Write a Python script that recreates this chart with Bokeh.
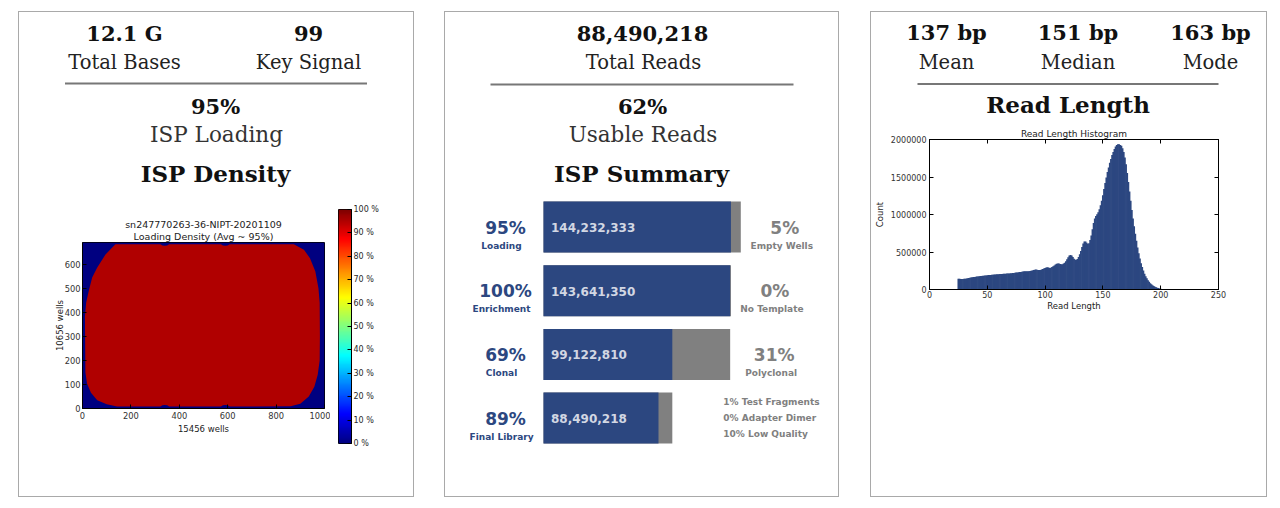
import numpy as np
from bokeh.plotting import figure
from bokeh.layouts import row, column
from bokeh.models import (Range1d, Spacer, Title, LinearAxis, FixedTicker,
                          BasicTickFormatter, LinearColorMapper, ColumnDataSource)
from bokeh.transform import linear_cmap
from bokeh.core.properties import value
from bokeh.embed import file_html
from bokeh.resources import INLINE

# ---------------- data ----------------
left_stat_values = ["12.1 G", "99"]
left_stat_labels = ["Total Bases", "Key Signal"]
isp_loading_value = "95%"
isp_loading_label = "ISP Loading"
left_section_title = "ISP Density"

mid_stat_value = "88,490,218"
mid_stat_label = "Total Reads"
usable_value = "62%"
usable_label = "Usable Reads"
mid_section_title = "ISP Summary"

rl_stat_values = ["137 bp", "151 bp", "163 bp"]
rl_stat_labels = ["Mean", "Median", "Mode"]
right_section_title = "Read Length"

heat_title = ["sn247770263-36-NIPT-20201109", "Loading Density (Avg ~ 95%)"]
heat_xlabel = "15456 wells"
heat_ylabel = "10656 wells"
heat_xticks = [0, 200, 400, 600, 800, 1000]
heat_yticks = [0, 100, 200, 300, 400, 500, 600]
chip_x = [0, 1000, 1000, 0]
chip_y = [0, 0, 690, 690]
loaded_x = [136, 322, 330, 340, 350, 358, 572, 580, 590, 600, 608, 873, 915, 940, 962,
            975, 980, 981, 980, 972, 958, 935, 900, 860, 608, 600, 590, 580, 572, 358,
            350, 340, 330, 322, 143, 100, 61, 35, 19, 12, 10, 15, 26, 40, 61, 95]
loaded_y = [683, 683, 678, 676, 678, 683, 683, 678, 676, 678, 683, 683, 660, 625, 570,
            500, 440, 300, 200, 140, 90, 50, 20, 9, 8, 13, 15, 13, 8, 8,
            13, 15, 13, 8, 8, 18, 34, 65, 103, 150, 380, 440, 489, 545, 586, 640]
region_levels = [0, 95]
cbar_ticks = [0, 10, 20, 30, 40, 50, 60, 70, 80, 90, 100]

summary_pct = ["95%", "100%", "69%", "89%"]
summary_names = ["Loading", "Enrichment", "Clonal", "Final Library"]
summary_counts = [144232333, 143641350, 99122810, 88490218]
summary_totals = [151823509, 144232333, 143641350, 99122810]
rest_pct = ["5%", "0%", "31%"]
rest_names = ["Empty Wells", "No Template", "Polyclonal"]
final_breakdown = ["1% Test Fragments", "0% Adapter Dimer", "10% Low Quality"]

hist_title = "Read Length Histogram"
hist_xlabel = "Read Length"
hist_ylabel = "Count"
hist_bins = list(range(25, 206))
hist_counts_k = [
    144, 142, 141, 140, 141, 143, 145, 148, 151, 155,
    158, 161, 163, 166, 168, 171, 173, 175, 177, 179,
    181, 183, 185, 187, 188, 191, 192, 194, 195, 197,
    198, 200, 201, 202, 204, 205, 206, 207, 208, 209,
    210, 211, 213, 214, 215, 217, 218, 220, 221, 224,
    226, 228, 230, 232, 235, 238, 240, 242, 243, 242,
    243, 245, 247, 250, 254, 260, 265, 267, 264, 260,
    259, 261, 266, 273, 280, 286, 293, 296, 293, 288,
    290, 299, 309, 321, 334, 343, 348, 346, 340, 336,
    338, 346, 358, 376, 402, 431, 453, 461, 455, 433,
    410, 397, 396, 407, 433, 469, 515, 567, 613, 639,
    641, 623, 608, 616, 659, 721, 803, 886, 948, 979,
    1004, 1030, 1071, 1123, 1185, 1257, 1339, 1421, 1494, 1566,
    1627, 1689, 1741, 1792, 1833, 1875, 1906, 1926, 1936, 1936,
    1926, 1916, 1885, 1833, 1761, 1669, 1555, 1432, 1308, 1185,
    1061, 948, 845, 742, 649, 561, 484, 412, 350, 299,
    252, 211, 177, 149, 124, 103, 84, 69, 57, 46,
    38, 31, 25, 20, 15, 11, 8, 6, 4, 3, 2]
hist_xticks = [0, 50, 100, 150, 200, 250]
hist_yticks = [0, 500000, 1000000, 1500000, 2000000]

# ---------------- styles ----------------
NAVY = "#2c4780"
GRAY = "#808080"
BORDER = "#a9a9a9"
SERIF = "DejaVu Serif"
SANS = "DejaVu Sans"
TICK_COLOR = "#333333"


def jet_palette(n=256):
    out = []
    for i in range(n):
        t = i / (n - 1)
        r = min(max(1.5 - abs(4 * t - 3), 0), 1)
        g = min(max(1.5 - abs(4 * t - 2), 0), 1)
        b = min(max(1.5 - abs(4 * t - 1), 0), 1)
        out.append("#%02x%02x%02x" % (int(r * 255 + .5), int(g * 255 + .5), int(b * 255 + .5)))
    return out


JET = jet_palette()


def no_align(p):
    if "frame_align" in p.properties():
        p.frame_align = False


def blank_fig(x0, y0, w, h):
    p = figure(width=w, height=h, x_range=Range1d(x0, x0 + w), y_range=Range1d(y0 + h, y0),
               min_border=0, toolbar_location=None, output_backend="svg",
               x_axis_location=None, y_axis_location=None)
    p.outline_line_color = None
    for g in p.grid:
        g.visible = False
    no_align(p)
    return p


def txt(p, x, y, s, size, bold=False, color="#111111", font=SERIF, align="center"):
    # y is the visual middle of the text line
    p.text(x=[x], y=[y], text=[s], text_font=value(font), text_font_size=value(f"{size}px"),
           text_font_style="bold" if bold else "normal", text_color=color,
           text_align=align, text_baseline="middle")


def style_axes(p, size="8px"):
    for ax in p.axis:
        ax.major_label_text_font = SANS
        ax.major_label_text_font_size = size
        ax.major_label_text_color = TICK_COLOR
        ax.axis_label_text_font = SANS
        ax.axis_label_text_font_size = "8.5px"
        ax.axis_label_text_font_style = "normal"
        ax.axis_label_text_color = "#222222"
        ax.major_tick_in = 4
        ax.major_tick_out = 0
        ax.minor_tick_line_color = None
        ax.axis_line_color = "black"
        ax.major_tick_line_color = "black"
        ax.major_label_standoff = 3
        ax.axis_label_standoff = 3


def vbar_line(h):
    return Spacer(width=1, height=h, styles={"background-color": BORDER})


def hbar_line(w):
    return Spacer(width=w, height=1, styles={"background-color": BORDER})


def panel(w, header, body, body_h):
    H = 1 + header.height + body_h + 1
    inner = column(hbar_line(w), header, body, hbar_line(w))
    return row(vbar_line(H), inner, vbar_line(H))


# ---------------- panel 1 ----------------
h1 = blank_fig(19, 12, 394, 183)
for xc, v, lab in zip([124, 308], left_stat_values, left_stat_labels):
    txt(h1, xc, 32.5, v, 21, bold=True)
    txt(h1, xc, 61.8, lab, 19.5, color="#222222")
h1.line(x=[64.5, 366.5], y=[83, 83], line_color="#777777", line_width=2)
txt(h1, 215, 106, isp_loading_value, 21, bold=True)
txt(h1, 216, 134, isp_loading_label, 21.5, color="#333333")
txt(h1, 215, 173, left_section_title, 23, bold=True)

heat = figure(width=311, height=301, x_range=Range1d(0, 1000), y_range=Range1d(0, 690),
              min_border_left=63, min_border_right=6, min_border_top=47, min_border_bottom=88,
              toolbar_location=None, output_backend="svg")
no_align(heat)
heat.grid.visible = False
heat.outline_line_color = "black"
heat_src = ColumnDataSource(dict(xs=[chip_x, loaded_x], ys=[chip_y, loaded_y], level=region_levels))
heat.patches(xs="xs", ys="ys", source=heat_src,
             fill_color=linear_cmap("level", JET, 0, 100), line_color=None)
heat.xaxis.ticker = FixedTicker(ticks=heat_xticks)
heat.yaxis.ticker = FixedTicker(ticks=heat_yticks)
heat.xaxis.axis_label = heat_xlabel
heat.yaxis.axis_label = heat_ylabel
style_axes(heat, "8.3px")
heat.yaxis.major_label_standoff = 2
heat.yaxis.axis_label_standoff = -3
heat.xaxis.axis_label_standoff = 2
heat.add_layout(Title(text=heat_title[1], align="center", text_font_size="9.5px", text_font=SANS,
                      text_font_style="normal", text_color="#222222", standoff=1), "above")
heat.add_layout(Title(text=heat_title[0], align="center", text_font_size="9.5px", text_font=SANS,
                      text_font_style="normal", text_color="#222222", standoff=-2), "above")

cb = figure(width=83, height=301, x_range=Range1d(0, 1), y_range=Range1d(0, 100),
            min_border_left=8, min_border_right=62, min_border_top=14, min_border_bottom=53,
            toolbar_location=None, output_backend="svg",
            x_axis_location=None, y_axis_location="right")
no_align(cb)
cb.grid.visible = False
cb.outline_line_color = "black"
cb.image(image=[np.linspace(0, 100, 256).reshape(256, 1)], x=0, y=0, dw=1, dh=100,
         color_mapper=LinearColorMapper(palette=JET, low=0, high=100))
cb.yaxis.ticker = FixedTicker(ticks=cbar_ticks)
cb.yaxis.major_label_overrides = {t: f"{t} %" for t in cbar_ticks}
style_axes(cb)
cb.yaxis.major_label_text_color = "#2a2a2a"
cb.yaxis.major_label_standoff = 2

p1 = panel(394, h1, row(heat, cb), 301)

# ---------------- panel 2 ----------------
h2 = blank_fig(445, 12, 393, 183)
txt(h2, 642, 32.5, mid_stat_value, 21, bold=True)
txt(h2, 643, 61.8, mid_stat_label, 19.5, color="#222222")
h2.line(x=[490, 793], y=[84, 84], line_color="#777777", line_width=2)
txt(h2, 642, 105.5, usable_value, 21, bold=True)
txt(h2, 642.5, 134, usable_label, 21.5, color="#333333")
txt(h2, 641, 173, mid_section_title, 23, bold=True)

S_PX = 197.3 / summary_totals[0]      # pixels per read
ROW_PX = 63.7
mid = figure(width=393, height=301,
             x_range=Range1d(-98 / S_PX, 295 / S_PX),
             y_range=Range1d((301 - 31.5) / ROW_PX, -31.5 / ROW_PX),
             min_border=0, toolbar_location=None, output_backend="svg",
             x_axis_location=None, y_axis_location=None)
no_align(mid)
mid.outline_line_color = None
for g in mid.grid:
    g.visible = False
rows = list(range(len(summary_counts)))
src = ColumnDataSource(dict(
    y=rows, total=summary_totals, count=summary_counts,
    pct=summary_pct, name=summary_names,
    clabel=[f"{v:,}" for v in summary_counts], zero=[0] * len(rows)))
mid.hbar(y="y", left="zero", right="total", height=0.8, source=src, fill_color=GRAY, line_color=None)
mid.hbar(y="y", left="zero", right="count", height=0.8, source=src, fill_color=NAVY, line_color=None)
common = dict(text_font=value(SANS), text_font_style="bold", text_baseline="middle")
mid.text(x="zero", y="y", text="clabel", source=src, x_offset=7.5, y_offset=0.5,
         text_font_size=value("12px"), text_color="#d2d7e3", text_align="left", **common)
mid.text(x="zero", y="y", text="pct", source=src, x_offset=-38, y_offset=0.5,
         text_font_size=value("17px"), text_color=NAVY, text_align="center", **common)
mid.text(x="zero", y="y", text="name", source=src, x_offset=-42, y_offset=18.5,
         text_font_size=value("9px"), text_color=NAVY, text_align="center", **common)
rsrc = ColumnDataSource(dict(y=rows[:3], total=summary_totals[:3], pct=rest_pct, name=rest_names))
mid.text(x="total", y="y", text="pct", source=rsrc, x_offset=44, y_offset=0.5,
         text_font_size=value("17px"), text_color=GRAY, text_align="center", **common)
mid.text(x="total", y="y", text="name", source=rsrc, x_offset=41, y_offset=18.5,
         text_font_size=value("9px"), text_color=GRAY, text_align="center", **common)
fsrc = ColumnDataSource(dict(y=[rows[3]] * 3, x=[summary_totals[3]] * 3, t=final_breakdown,
                             dy=[-16, 0, 16]))
mid.text(x="x", y="y", text="t", source=fsrc, x_offset=51, y_offset="dy",
         text_font_size=value("9px"), text_color=GRAY, text_align="left", **common)

p2 = panel(393, h2, mid, 301)

# ---------------- panel 3 ----------------
h3 = blank_fig(871, 12, 395, 108)
for xc, v, lab in zip([946, 1077.5, 1210], rl_stat_values, rl_stat_labels):
    txt(h3, xc, 32, v, 21, bold=True)
    txt(h3, xc, 61.8, lab, 19.5, color="#222222")
h3.line(x=[917, 1218], y=[83.5, 83.5], line_color="#777777", line_width=2)
txt(h3, 1067.5, 104, right_section_title, 23, bold=True)

hist = figure(width=395, height=376, x_range=Range1d(0, 250), y_range=Range1d(0, 2000000),
              min_border_left=56, min_border_right=48, min_border_top=19, min_border_bottom=207,
              toolbar_location=None, output_backend="svg")
no_align(hist)
hist.grid.visible = False
hist.outline_line_color = "black"
hist.vbar(x=hist_bins, top=[v * 1000 for v in hist_counts_k], width=1.6,
          fill_color=NAVY, line_color=None)
bottom_ax = hist.below[0]
left_ax = hist.left[0]
bottom_ax.ticker = FixedTicker(ticks=hist_xticks)
left_ax.ticker = FixedTicker(ticks=hist_yticks)
left_ax.formatter = BasicTickFormatter(use_scientific=False)
bottom_ax.axis_label = hist_xlabel
left_ax.axis_label = hist_ylabel
right_ax = LinearAxis(ticker=FixedTicker(ticks=hist_yticks))
hist.add_layout(right_ax, "right")
top_ax = LinearAxis(ticker=FixedTicker(ticks=hist_xticks))
hist.add_layout(top_ax, "above")
style_axes(hist)
for ax in (right_ax, top_ax):
    ax.major_label_text_color = None
    ax.major_label_text_font_size = "1px"
    ax.major_label_standoff = 0
bottom_ax.major_label_standoff = 1
bottom_ax.axis_label_standoff = 0
hist.title.text = hist_title
hist.title.align = "center"
hist.title.text_font = SANS
hist.title.text_font_size = "9px"
hist.title.text_font_style = "normal"
hist.title.text_color = "#222222"
hist.title.standoff = 1

p3 = panel(395, h3, hist, 376)

root = column(Spacer(width=1267, height=11),
              row(Spacer(width=18, height=486), p1, Spacer(width=30, height=486), p2,
                  Spacer(width=31, height=486), p3))

open("out.html", "w").write(file_html(root, INLINE))
